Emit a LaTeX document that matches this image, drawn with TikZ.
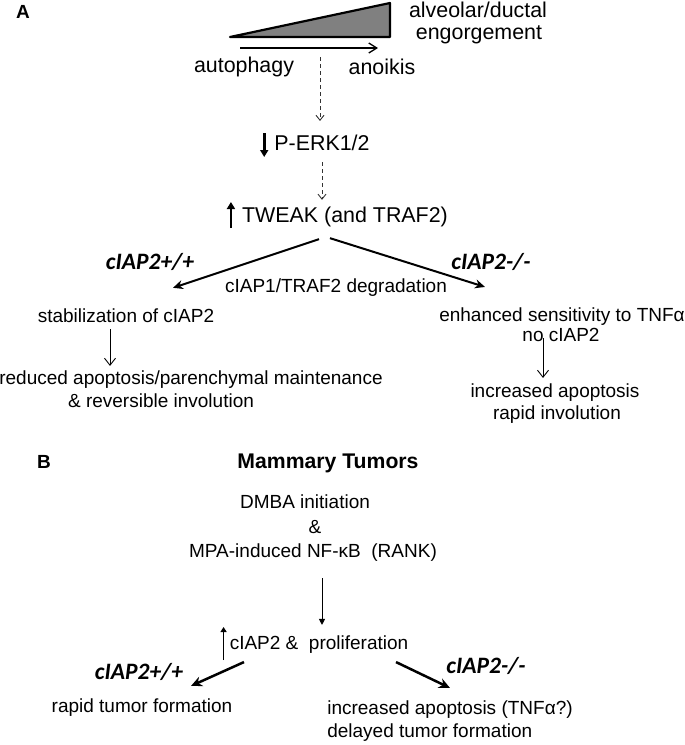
\documentclass[tikz,border=0pt]{standalone}
\usepackage{fontspec}
\setmainfont{Liberation Sans}
\newfontfamily\calfont{Carlito}
\usetikzlibrary{arrows.meta,calc}
\definecolor{trigray}{RGB}{128,128,128}
\begin{document}
\begin{tikzpicture}[x=1pt,y=-1pt,
  txt/.style={inner sep=0pt, font=\fontsize{19}{22}\selectfont},
  big/.style={inner sep=0pt, font=\fontsize{21.4}{25}\selectfont},
  bigbold/.style={inner sep=0pt, font=\fontsize{21.2}{25}\selectfont\bfseries},
  geno/.style={inner sep=0pt, font=\fontsize{23.5}{26}\selectfont\calfont\bfseries\itshape},
  panel/.style={inner sep=0pt, font=\fontsize{19}{23}\selectfont\bfseries},
  fatarr/.style={line width=2.6pt, -{Triangle[length=7pt,width=8pt]}},
  brarr/.style={line width=2pt, -{Stealth[length=10pt,width=9pt]}},
  brarrB/.style={line width=2.5pt, -{Stealth[length=11pt,width=10pt]}},
  thinarr/.style={line width=0.9pt, -{Straight Barb[length=7pt,width=11pt]}},
  openarr/.style={line width=1.3pt, -{Straight Barb[length=8pt,width=10pt]}},
  dasharr/.style={line width=0.9pt, black!80, dash pattern=on 4pt off 3pt, -{Straight Barb[length=5pt,width=8pt]}},
  downarr/.style={line width=0.9pt, -{Triangle[length=6pt,width=6pt]}},
  uparr/.style={line width=1.8pt, -{Triangle[length=5pt,width=6pt]}}
]
\useasboundingbox (0,0) rectangle (685,745);

% ---------- Panel A ----------
\node[panel] (labA) at (23,12) {A};
\draw[line width=2.2pt, fill=trigray, line join=round] (230,37) -- (390,3) -- (390,37) -- cycle;
\coordinate (arrS) at (240,48);
\coordinate (arrE) at (378,48);
\draw[openarr] (arrS) -- (arrE);

\node[big] (alv) at (478,10) {alveolar/ductal};
\node[big] (eng) at (479,35) {engorgement};
\node[big] (auto) at (244,67) {autophagy};
\node[big] (anoi) at (382,67) {anoikis};
\node[big] (perk) at (322,143) {P-ERK1/2};
\node[big] (tweak) at (345,217) {TWEAK (and TRAF2)};

\coordinate (d1) at (320,57);
\draw[dasharr, shorten >=14pt] (d1) -- (d1 |- perk.north);
\draw[fatarr] ($(perk.west)+(-10,-10)$) -- ($(perk.west)+(-10,14)$);
\draw[dasharr, shorten <=11pt, shorten >=7pt] (perk.south) -- (perk.south |- tweak.north);
\draw[fatarr] ($(tweak.west)+(-11,11)$) -- ($(tweak.west)+(-11,-15)$);

\node[geno] (gA1) at (150,262) {cIAP2+/+};
\node[geno] (gA2) at (491,262) {cIAP2-/-};
\node[txt] (deg) at (336,288) {cIAP1/TRAF2 degradation};
\node[txt] (stab) at (126,316) {stabilization of cIAP2};
\node[txt] (enh1) at (562,317) {enhanced sensitivity to TNFα};
\node[txt] (nocap) at (561,335) {no cIAP2};
\node[txt] (red1) at (191,380) {reduced apoptosis/parenchymal maintenance};
\node[txt] (red2) at (161,401) {\& reversible involution};
\node[txt] (inc1) at (555,393) {increased apoptosis};
\node[txt] (inc2) at (557,415) {rapid involution};

\draw[brarr] ($(tweak.south)+(-26,12)$) -- ($(stab.north)+(47,-21)$);
\draw[brarr] ($(tweak.south)+(-15,11)$) -- ($(enh1.north)+(-77,-21)$);
\draw[thinarr] ($(stab.south)+(-16,6)$) -- ($(red1.north)+(-81,-5)$);
\draw[thinarr] ($(nocap.center)+(-18,3)$) -- ($(inc1.north)+(-12,-6)$);

% ---------- Panel B ----------
\node[panel] (labB) at (44,462) {B};
\node[bigbold] (mam) at (328,463) {Mammary Tumors};
\node[txt] (dmba) at (305,502) {DMBA initiation};
\node[txt] (amp) at (315,527) {\&};
\node[txt] (mpa) at (313,553) {MPA-induced NF-κB\ \ (RANK)};
\node[txt] (prol) at (319,645) {cIAP2 \&\ \ proliferation};

\draw[downarr] ($(mpa.south)+(9,16)$) -- ($(prol.north)+(3,-11)$);
\draw[uparr] ($(prol.west)+(-6,15)$) -- ($(prol.west)+(-6,-18)$);

\node[geno] (gB1) at (139,672) {cIAP2+/+};
\node[geno] (gB2) at (486,666) {cIAP2-/-};
\node[txt] (rtf) at (142,708) {rapid tumor formation};
\node[txt] (incB1) at (450,710) {increased apoptosis (TNFα?)};
\node[txt, anchor=west] (incB2) at (incB1.west |- 0,733) {delayed tumor formation};

\draw[brarrB] ($(prol.south)+(-75,8)$) -- ($(rtf.north)+(49,-13)$);
\draw[brarrB] ($(prol.south)+(77,8)$) -- ($(incB1.north)+(0,-13)$);
\end{tikzpicture}
\end{document}
